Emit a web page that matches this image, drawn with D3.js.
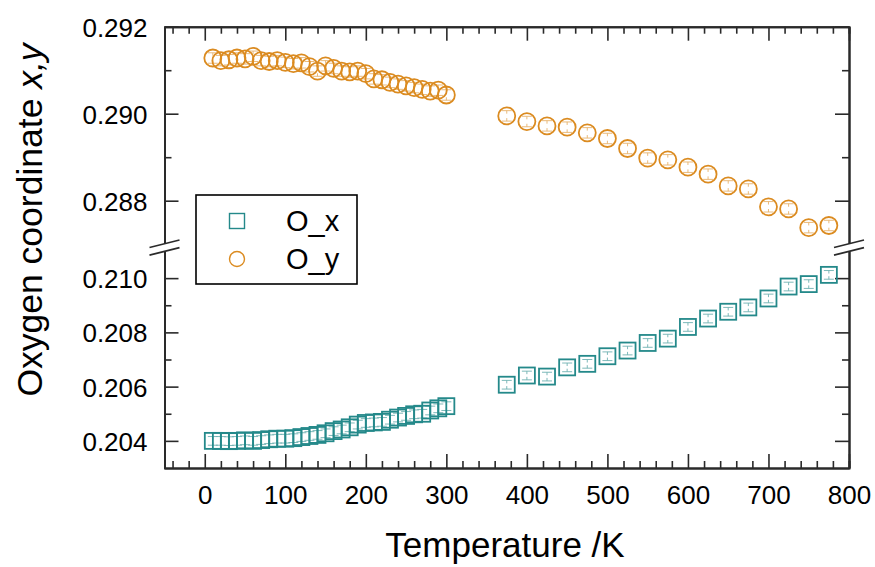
<!DOCTYPE html>
<html>
<head>
<meta charset="utf-8">
<script src="https://cdn.jsdelivr.net/npm/d3@7"></script>
<style>
  body { margin: 0; background: #fff; }
  svg { display: block; font-family: "Liberation Sans", Arial, sans-serif; }
</style>
</head>
<body>
<div id="chart"></div>
<script>
// temperatures (K)
const tempLow = [10, 20, 30, 40, 50, 60, 70, 80, 90, 100, 110, 120, 130, 140, 150,
  160, 170, 180, 190, 200, 210, 220, 230, 240, 250, 260, 270, 280, 290, 300];
const tempHigh = [375, 400, 425, 450, 475, 500, 525, 550, 575, 600, 625, 650, 675,
  700, 725, 750, 775];

// O_y coordinate
const oyLow = [0.29128, 0.29122, 0.29124, 0.29128, 0.29126, 0.29132, 0.29122, 0.29120,
  0.29122, 0.29118, 0.29115, 0.29117, 0.29108, 0.29098, 0.29110, 0.29104, 0.29098,
  0.29096, 0.29098, 0.29092, 0.29080, 0.29078, 0.29072, 0.29068, 0.29064, 0.29060,
  0.29056, 0.29052, 0.29054, 0.29043];
const oyHigh = [0.28995, 0.28982, 0.28972, 0.28969, 0.28956, 0.28943, 0.28920, 0.28898,
  0.28894, 0.28877, 0.28861, 0.28834, 0.28827, 0.28786, 0.28781, 0.28738, 0.28743];

// O_x coordinate
const oxLow = [0.20400, 0.20400, 0.20399, 0.20400, 0.20402, 0.20400, 0.20403, 0.20406,
  0.20408, 0.20408, 0.20410, 0.20414, 0.20418, 0.20422, 0.20428, 0.20436, 0.20442,
  0.20450, 0.20460, 0.20466, 0.20468, 0.20470, 0.20478, 0.20486, 0.20492, 0.20498,
  0.20500, 0.20512, 0.20520, 0.20528];
const oxHigh = [0.20607, 0.20641, 0.20637, 0.20671, 0.20684, 0.20712, 0.20733, 0.20761,
  0.20777, 0.20820, 0.20851, 0.20876, 0.20892, 0.20925, 0.20969, 0.20978, 0.21012];

const errOy = 0.00012;
const errOx = 0.00016;

const xMajor = [0, 100, 200, 300, 400, 500, 600, 700, 800];
const xMinor = [-40, -20, 20, 40, 60, 80, 120, 140, 160, 180, 220, 240, 260, 280, 320, 340,
  360, 380, 420, 440, 460, 480, 520, 540, 560, 580, 620, 640, 660, 680, 720, 740, 760, 780];
const yTopMajor = [0.288, 0.290, 0.292];
const yTopMinor = [0.289, 0.291];
const yBotMajor = [0.204, 0.206, 0.208, 0.210];
const yBotMinor = [0.205, 0.207, 0.209];

const seriesNames = ["O_x", "O_y"];

const W = 875, H = 567;
const plotL = 164.5, plotR = 849, plotT = 26.7, plotB = 468;
const orange = "#db8b20", teal = "#24898a";
const axisColor = "#2a2a2a";

const svg = d3.select("#chart").append("svg").attr("width", W).attr("height", H);

const x = d3.scaleLinear().domain([-50, 800]).range([plotL, plotR]);
const yTop = d3.scaleLinear().domain([0.287, 0.292]).range([244.2, plotT]);
const yBot = d3.scaleLinear().domain([0.203, 0.211]).range([plotB, 251]);

const toPts = (ts, vs) => ts.map((t, i) => ({ t: t, v: vs[i] }));
const oyData = toPts(tempLow, oyLow).concat(toPts(tempHigh, oyHigh));
const oxData = toPts(tempLow, oxLow).concat(toPts(tempHigh, oxHigh));

function styleAxis(g) {
  g.selectAll("path").attr("stroke", axisColor).attr("stroke-width", 2);
  g.selectAll("line").attr("stroke", axisColor).attr("stroke-width", 1.6);
  g.selectAll("text").attr("fill", "#000").attr("font-size", 26)
    .attr("font-family", "Liberation Sans, Arial, sans-serif");
}

// bottom + top axes
let g = svg.append("g").attr("transform", `translate(0,${plotB})`)
  .call(d3.axisBottom(x).tickValues(xMajor).tickSize(-14).tickSizeOuter(0).tickPadding(18));
styleAxis(g);
g = svg.append("g").attr("transform", `translate(0,${plotB})`)
  .call(d3.axisBottom(x).tickValues(xMinor).tickSize(-7).tickFormat(""));
styleAxis(g);
g = svg.append("g").attr("transform", `translate(0,${plotT})`)
  .call(d3.axisTop(x).tickValues(xMajor).tickSize(-14).tickSizeOuter(0).tickFormat(""));
styleAxis(g);
g = svg.append("g").attr("transform", `translate(0,${plotT})`)
  .call(d3.axisTop(x).tickValues(xMinor).tickSize(-7).tickFormat(""));
styleAxis(g);

// left + right axes, two segments each
[[yTop, yTopMajor, yTopMinor], [yBot, yBotMajor, yBotMinor]].forEach(function(seg) {
  let a = svg.append("g").attr("transform", `translate(${plotL},0)`)
    .call(d3.axisLeft(seg[0]).tickValues(seg[1]).tickSize(-14).tickSizeOuter(0)
      .tickPadding(17).tickFormat(d3.format(".3f")));
  styleAxis(a);
  a.selectAll("text").attr("dy", "0.36em");
  a = svg.append("g").attr("transform", `translate(${plotL},0)`)
    .call(d3.axisLeft(seg[0]).tickValues(seg[2]).tickSize(-7).tickSizeOuter(0).tickFormat(""));
  styleAxis(a);
  a = svg.append("g").attr("transform", `translate(${plotR},0)`)
    .call(d3.axisRight(seg[0]).tickValues(seg[1]).tickSize(-14).tickSizeOuter(0).tickFormat(""));
  styleAxis(a);
  a = svg.append("g").attr("transform", `translate(${plotR},0)`)
    .call(d3.axisRight(seg[0]).tickValues(seg[2]).tickSize(-7).tickSizeOuter(0).tickFormat(""));
  styleAxis(a);
});

// axis break marks
const breakY = (yTop.range()[0] + yBot.range()[1]) / 2;
[plotL, plotR].forEach(function(ax) {
  const dx = 15, slope = 0.25, gap = 3.8;
  svg.append("polygon")
    .attr("points", [
      [ax - dx, breakY - gap + dx * slope], [ax + dx, breakY - gap - dx * slope],
      [ax + dx, breakY + gap - dx * slope], [ax - dx, breakY + gap + dx * slope]
    ].map(p => p.join(",")).join(" "))
    .attr("fill", "#fff");
  [-gap, gap].forEach(function(o) {
    svg.append("line")
      .attr("x1", ax - dx).attr("y1", breakY + o + dx * slope)
      .attr("x2", ax + dx).attr("y2", breakY + o - dx * slope)
      .attr("stroke", axisColor).attr("stroke-width", 1.6);
  });
});

// error bars: cap plus a short stem towards the point
function errorBars(data, yScale, err, color) {
  const gE = svg.append("g").attr("stroke", color).attr("stroke-width", 0.9).attr("opacity", 0.65);
  data.forEach(function(d) {
    const cx = x(d.t), y1 = yScale(d.v + err), y2 = yScale(d.v - err);
    gE.append("line").attr("x1", cx).attr("x2", cx).attr("y1", y1).attr("y2", y1 + 3);
    gE.append("line").attr("x1", cx).attr("x2", cx).attr("y1", y2).attr("y2", y2 - 3);
    gE.append("line").attr("x1", cx - 5).attr("x2", cx + 5).attr("y1", y1).attr("y2", y1);
    gE.append("line").attr("x1", cx - 5).attr("x2", cx + 5).attr("y1", y2).attr("y2", y2);
  });
}

errorBars(oyData, yTop, errOy, orange);
svg.append("g").selectAll("circle").data(oyData).join("circle")
  .attr("cx", d => x(d.t)).attr("cy", d => yTop(d.v)).attr("r", 8.5)
  .attr("fill", "none").attr("stroke", orange).attr("stroke-width", 1.8);

errorBars(oxData, yBot, errOx, teal);
svg.append("g").selectAll("rect").data(oxData).join("rect")
  .attr("x", d => x(d.t) - 8).attr("y", d => yBot(d.v) - 8)
  .attr("width", 16).attr("height", 16)
  .attr("fill", "none").attr("stroke", teal).attr("stroke-width", 1.8);

// legend
const leg = svg.append("g");
leg.append("rect").attr("x", 196).attr("y", 195).attr("width", 161).attr("height", 89)
  .attr("fill", "#fff").attr("stroke", "#000").attr("stroke-width", 1.6);
leg.append("rect").attr("x", 237 - 7.5).attr("y", 221 - 7.5).attr("width", 15).attr("height", 15)
  .attr("fill", "none").attr("stroke", teal).attr("stroke-width", 1.4);
leg.append("circle").attr("cx", 237).attr("cy", 259).attr("r", 7.5)
  .attr("fill", "none").attr("stroke", orange).attr("stroke-width", 1.4);
leg.selectAll("text").data(seriesNames).join("text")
  .attr("x", 286).attr("y", (d, i) => 231 + i * 38)
  .attr("font-size", 29).text(d => d);

// axis titles
svg.append("text").attr("x", 505).attr("y", 557).attr("text-anchor", "middle")
  .attr("font-size", 35).text("Temperature /K");
const yt = svg.append("text").attr("transform", "translate(42,220) rotate(-90)")
  .attr("text-anchor", "middle").attr("font-size", 35.5);
yt.append("tspan").text("Oxygen coordinate ");
yt.append("tspan").attr("font-style", "italic").text("x,y");
</script>
</body>
</html>
